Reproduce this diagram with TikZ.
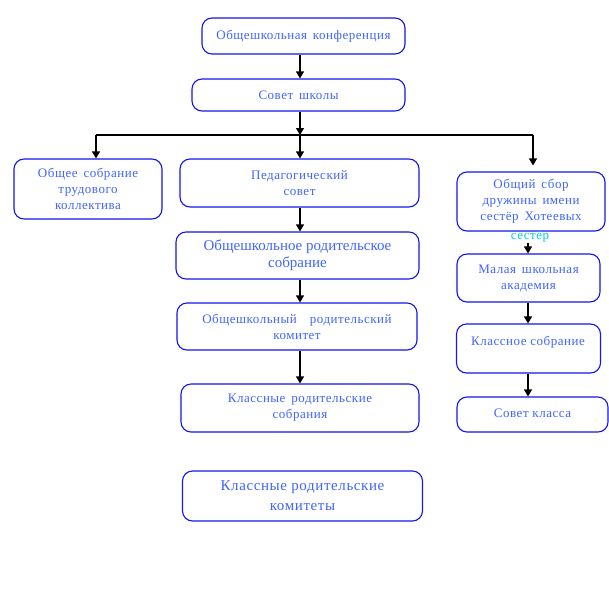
\documentclass[tikz,border=0pt]{standalone}
\usepackage{fontspec}
\setmainfont{Liberation Serif}
\newfontfamily\spf[LetterSpace=4]{Liberation Serif}
\newfontfamily\spg[LetterSpace=4]{Liberation Serif}
\usetikzlibrary{arrows.meta}
\definecolor{boxblue}{RGB}{20,20,240}
\definecolor{txtblue}{RGB}{64,100,255}
\definecolor{cyantxt}{RGB}{0,200,255}
\tikzset{
  box/.style={draw=boxblue, line width=1.1pt, rounded corners=10pt, text=txtblue,
    align=center, inner sep=0pt},
  smalltxt/.style={font=\spf\fontsize{13}{16}\selectfont},
  bigtxt/.style={font=\fontsize{15}{17}\selectfont},
  hugetxt/.style={font=\spg\fontsize{15}{20}\selectfont},
  arr/.style={line width=1.2pt, -{Triangle[width=8pt,length=7pt]}},
  conn/.style={line width=1.2pt}
}
\begin{document}
\begin{tikzpicture}[x=1pt,y=-1pt]
\useasboundingbox (0,0) rectangle (609,589);
\coordinate (ax) at (300,0);
\coordinate (axr) at (528,0);
% boxes
\node[box, smalltxt, minimum width=203pt, minimum height=36pt] (b1) at (303.5,36) {\raisebox{2pt}{Общешкольная\, конференция}};
\node[box, smalltxt, minimum width=213pt, minimum height=32pt] (b2) at (298.5,95) {Совет\, школы};
\node[box, smalltxt, minimum width=148pt, minimum height=60pt] (b3) at (88,189) {Общее\, собрание\\трудового\\коллектива};
\node[box, smalltxt, minimum width=239pt, minimum height=48pt] (b4) at (299.5,183) {Педагогический\\совет};
\node[box, bigtxt, minimum width=243pt, minimum height=47pt] (b5) at (297.5,255.5) {Общешкольное родительское\\собрание};
\node[box, smalltxt, minimum width=240pt, minimum height=47pt] (b6) at (297,326.5) {Общешкольный\quad родительский\\комитет};
\node[box, smalltxt, minimum width=238pt, minimum height=48pt] (b7) at (300,408) {Классные\, родительские\\собрания};
\node[box, hugetxt, minimum width=240pt, minimum height=50pt] (b8) at (302.5,496) {Классные родительские\\комитеты};
\node[box, smalltxt, minimum width=148pt, minimum height=59pt] (b9) at (531,201.5) {Общий\, сбор\\дружины\, имени\\сестёр\, Хотеевых};
\node[box, smalltxt, minimum width=143pt, minimum height=48pt] (b10) at (528.5,278) {Малая\, школьная\\академия};
\node[box, minimum width=144pt, minimum height=49pt] (b11) at (528.5,348.5) {};
\node[smalltxt, text=txtblue, inner sep=0pt] (t11) at (528,342) {Классное собрание};
\node[box, smalltxt, minimum width=151pt, minimum height=35pt] (b12) at (532.5,414.5) {\raisebox{2pt}{Совет класса}};
\node[smalltxt, text=cyantxt, inner sep=0pt] (c9) at (530,237) {сестёр};
% connectors
\coordinate (j) at (300,135);
\coordinate (jl) at (96,135);
\coordinate (jr) at (533,135);
\draw[arr] (b1.south -| ax) -- (b2.north -| ax);
\draw[arr] (b2.south -| ax) -- (j);
\draw[conn] (jl) -- (jr);
\draw[arr] (jl) -- (jl |- b3.north);
\draw[arr] (j) -- (b4.north -| ax);
\draw[arr, shorten >=6pt] (jr) -- (jr |- b9.north);
\draw[arr] (b4.south -| ax) -- (b5.north -| ax);
\draw[arr] (b5.south -| ax) -- (b6.north -| ax);
\draw[arr] (b6.south -| ax) -- (b7.north -| ax);
\draw[arr] (c9.south -| axr) -- (b10.north -| axr);
\draw[arr] (b10.south -| axr) -- (b11.north -| axr);
\draw[arr] (b11.south -| axr) -- (b12.north -| axr);
\end{tikzpicture}
\end{document}
